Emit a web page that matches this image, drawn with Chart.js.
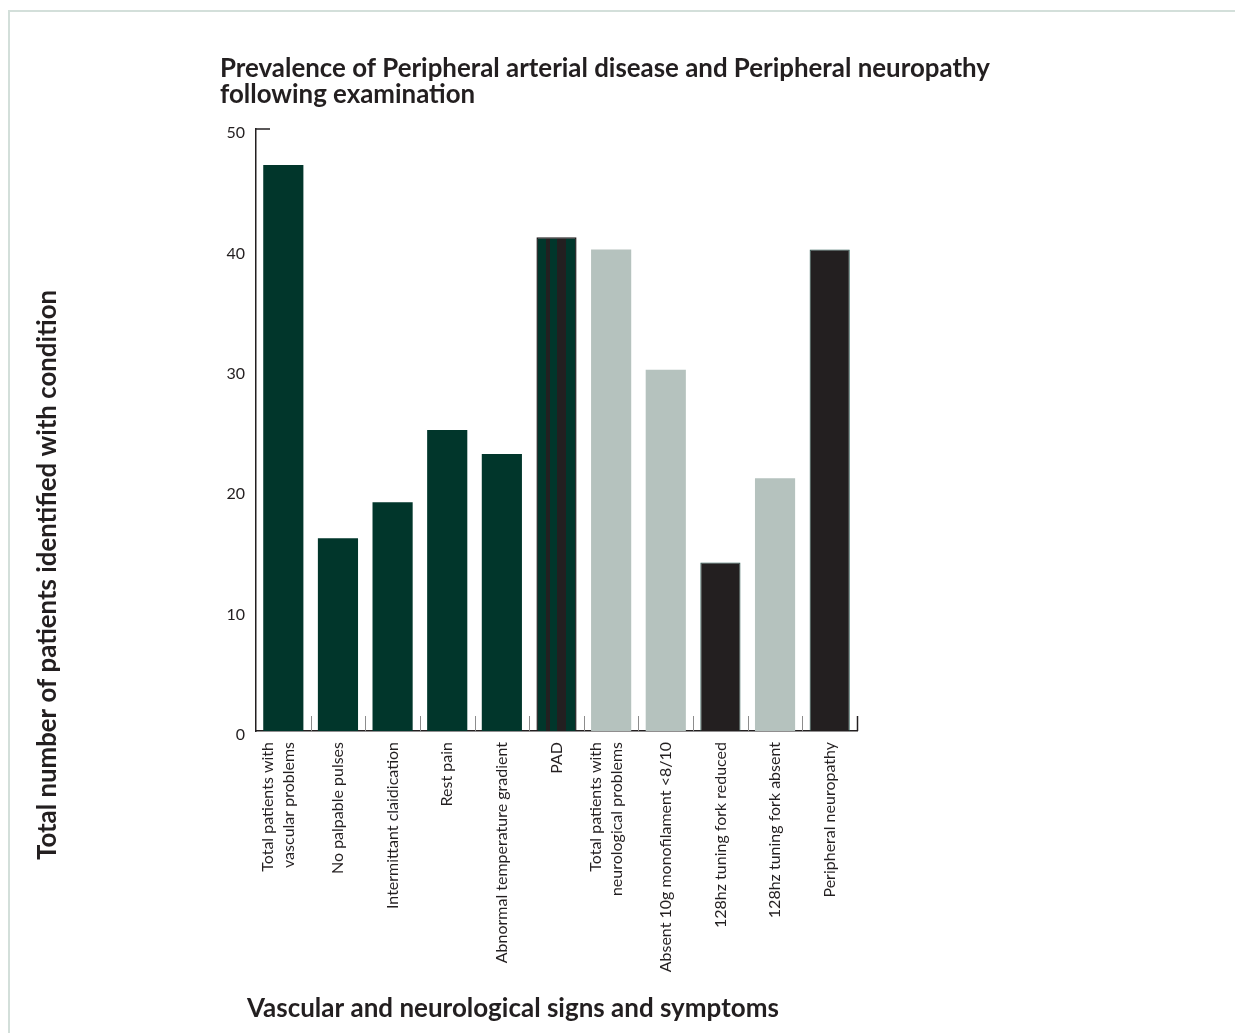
<!DOCTYPE html>
<html>
<head>
<meta charset="utf-8">
<title>Prevalence of Peripheral arterial disease and Peripheral neuropathy</title>
<script src="https://cdn.jsdelivr.net/npm/chart.js@4"></script>
<style>
  html, body { margin: 0; padding: 0; background: #ffffff; }
  body { width: 1235px; height: 1033px; position: relative; overflow: hidden; }
  .frame {
    position: absolute; left: 8px; top: 10px; right: -4px; bottom: -4px;
    border-top: 2px solid #d3dfda; border-left: 2px solid #d3dfda;
  }
  #chart { position: absolute; left: 0; top: 0; }
</style>
</head>
<body>
<div class="frame"></div>
<canvas id="chart" width="1235" height="1033"></canvas>
<script>
// Categories along the x axis (multi-line labels as arrays)
const categories = [
  ["Total patients with", "vascular problems"],
  "No palpable pulses",
  "Intermittant claidication",
  "Rest pain",
  "Abnormal temperature gradient",
  "PAD",
  ["Total patients with", "neurological problems"],
  "Absent 10g monofilament <8/10",
  "128hz tuning fork reduced",
  "128hz tuning fork absent",
  "Peripheral neuropathy"
];

// Number of patients for each category
const patientCounts = [47, 16, 19, 25, 23, 41, 40, 30, 14, 21, 40];

// Which group each bar belongs to (drives its fill)
const barGroups = [
  "vascular", "vascular", "vascular", "vascular", "vascular",
  "pad",
  "neuro", "neuro", "neuropathy", "neuro", "neuropathy"
];

// Value axis ticks
const yTicks = [0, 10, 20, 30, 40, 50];

const chartTitle = ["Prevalence of Peripheral arterial disease and Peripheral neuropathy", "following examination"];
const yAxisTitle = "Total number of patients identified with condition";
const xAxisTitle = "Vascular and neurological signs and symptoms";

const GREEN = "#01362b";
const GREY = "#b5c2be";
const BLACK = "#231f20";
const INK = "#231f20";
const FONT = "Lato, 'Open Sans', sans-serif";
const TICK_FONT_SIZE = 16;
const TICK_LINE_HEIGHT = 1.28;

// Striped fill for the combined PAD bar, laid out across the bar's own width
function padStripes(chart, index) {
  const xs = chart.scales.x;
  if (!xs || xs.width === 0) return GREEN;
  const ds = chart.data.datasets[0];
  const w = xs.width / categories.length * ds.barPercentage * ds.categoryPercentage;
  const cx = xs.getPixelForValue(index);
  const x0 = cx - w / 2, x1 = cx + w / 2;
  const g = chart.ctx.createLinearGradient(x0, 0, x1, 0);
  const bands = [
    [0.00, GREEN], [0.24, GREEN], [0.24, BLACK], [0.34, BLACK],
    [0.34, GREEN], [0.51, GREEN], [0.51, BLACK], [0.73, BLACK],
    [0.73, GREEN], [1.00, GREEN]
  ];
  bands.forEach(([o, c]) => g.addColorStop(o, c));
  return g;
}

function fillFor(ctx) {
  const grp = barGroups[ctx.dataIndex];
  if (grp === "pad") return padStripes(ctx.chart, ctx.dataIndex);
  if (grp === "neuro") return GREY;
  if (grp === "neuropathy") return BLACK;
  return GREEN;
}

function borderFor(ctx) {
  const grp = barGroups[ctx.dataIndex];
  if (grp === "pad") return BLACK;
  if (grp === "neuropathy") return "#1f4f47";
  return "rgba(0,0,0,0)";
}

function borderWidthFor(ctx) {
  const grp = barGroups[ctx.dataIndex];
  if (grp === "pad") return 1.5;
  if (grp === "neuropathy") return 1;
  return 0;
}

// Fit a bold text run to a given width by choosing its font size
function fitFont(ctx, text, width, weight) {
  let size = 24;
  ctx.font = weight + " " + size + "px " + FONT;
  const w = ctx.measureText(text).width;
  size = size * width / w;
  return weight + " " + size.toFixed(2) + "px " + FONT;
}

// Centre multi-line rotated category labels on their bar
const centreLabels = {
  id: "centreLabels",
  beforeDraw(chart) {
    const x = chart.scales.x;
    const items = x.getLabelItems(chart.chartArea);
    const lh = TICK_FONT_SIZE * TICK_LINE_HEIGHT;
    items.forEach(item => {
      if (Array.isArray(item.label) && !item._centred) {
        item.options.translation[0] -= lh * (item.label.length - 1) / 2 + 5;
        item._centred = true;
      }
    });
  }
};

// Axis decorations and titles
const decorations = {
  id: "decorations",
  afterDraw(chart) {
    const { ctx, chartArea: a, scales: { x } } = chart;
    ctx.save();
    // short cap at the top of the value axis
    ctx.strokeStyle = INK;
    ctx.lineWidth = 1.5;
    ctx.beginPath();
    ctx.moveTo(a.left, a.top);
    ctx.lineTo(a.left + 14, a.top);
    ctx.stroke();

    // category separators rising from the base line
    const step = x.width / categories.length;
    for (let i = 1; i <= categories.length; i++) {
      const px = Math.round(a.left + step * i) + 0.5;
      ctx.strokeStyle = i === categories.length ? INK : "#8c8c8c";
      ctx.lineWidth = i === categories.length ? 1.5 : 1;
      ctx.beginPath();
      ctx.moveTo(px, a.bottom);
      ctx.lineTo(px, a.bottom - 15);
      ctx.stroke();
    }

    ctx.fillStyle = INK;
    ctx.textBaseline = "alphabetic";
    ctx.textAlign = "left";

    // chart title, two left-aligned lines
    ctx.font = fitFont(ctx, chartTitle[0], 770, "bold");
    ctx.fillText(chartTitle[0], 220, 77);
    ctx.fillText(chartTitle[1], 220, 103);

    // x axis title
    ctx.font = fitFont(ctx, xAxisTitle, 532, "bold");
    ctx.fillText(xAxisTitle, 247, 1017);

    // y axis title, rotated
    ctx.font = fitFont(ctx, yAxisTitle, 570, "bold");
    ctx.translate(56, 860);
    ctx.rotate(-Math.PI / 2);
    ctx.fillText(yAxisTitle, 0, 0);
    ctx.restore();
  }
};

new Chart(document.getElementById("chart"), {
  type: "bar",
  data: {
    labels: categories,
    datasets: [{
      data: patientCounts,
      backgroundColor: fillFor,
      borderColor: borderFor,
      borderWidth: borderWidthFor,
      borderSkipped: "bottom",
      barPercentage: 0.735,
      categoryPercentage: 1.0
    }]
  },
  options: {
    responsive: false,
    animation: false,
    layout: { padding: { left: 200, top: 129, right: 378, bottom: 0 } },
    plugins: {
      legend: { display: false },
      title: { display: false },
      tooltip: { enabled: false }
    },
    scales: {
      x: {
        grid: { display: false, drawTicks: false },
        border: { display: true, color: INK, width: 1.5 },
        ticks: {
          autoSkip: false,
          maxRotation: 90,
          minRotation: 90,
          padding: 11,
          color: INK,
          font: { family: FONT, size: TICK_FONT_SIZE, lineHeight: TICK_LINE_HEIGHT }
        },
        afterFit(scale) { scale.height = 302; }
      },
      y: {
        min: 0,
        max: 50,
        afterBuildTicks(scale) { scale.ticks = yTicks.map(v => ({ value: v })); },
        grid: { display: false, drawTicks: false },
        border: { display: true, color: INK, width: 1.5 },
        ticks: {
          padding: 11,
          labelOffset: 4,
          color: INK,
          font: { family: FONT, size: 16 }
        },
        afterFit(scale) { scale.width = 56; }
      }
    }
  },
  plugins: [centreLabels, decorations]
});
</script>
</body>
</html>
